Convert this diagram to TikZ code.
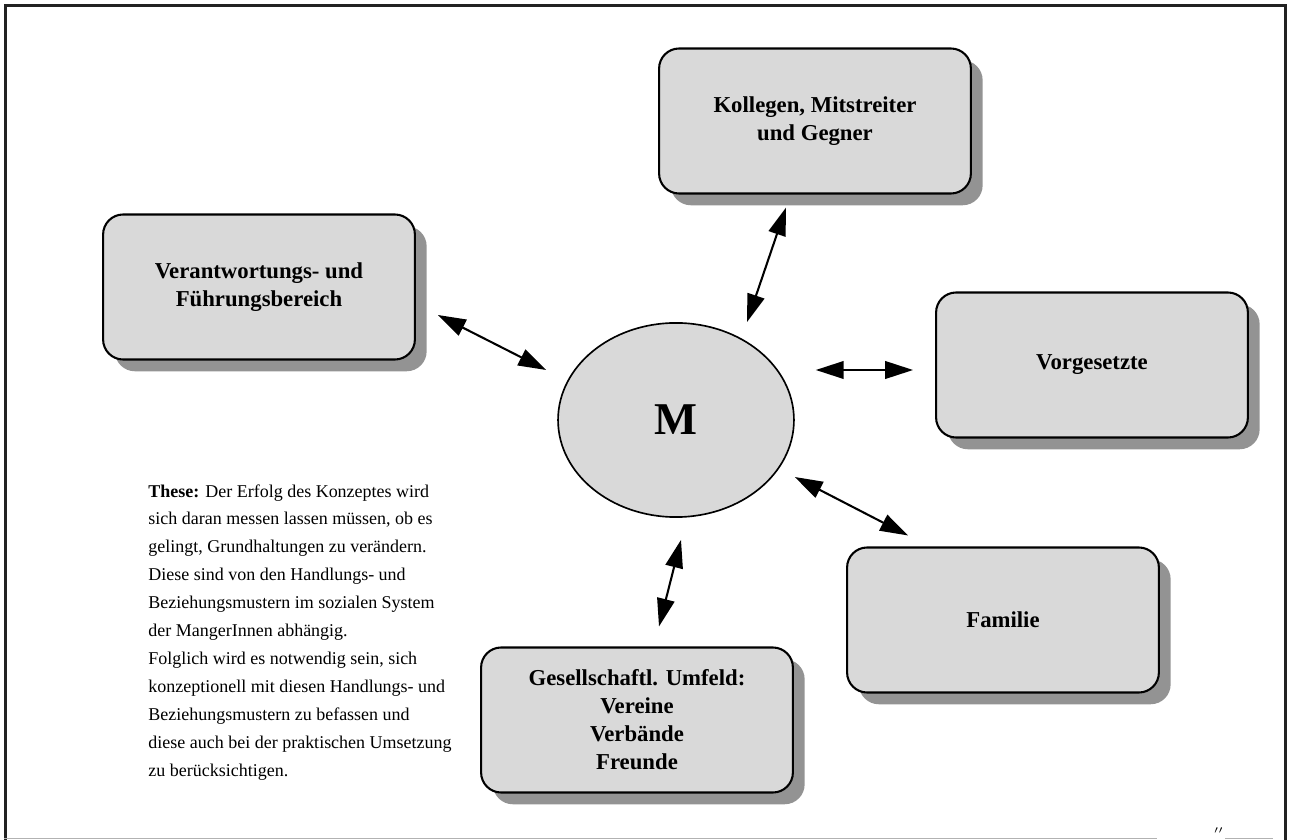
\documentclass[tikz,border=0pt]{standalone}
\usepackage{fontspec}
\setmainfont{Liberation Serif}
\usetikzlibrary{shapes.geometric,shadows,arrows.meta,calc}
\definecolor{boxgray}{HTML}{D9D9D9}
\definecolor{shadowgray}{HTML}{939393}
\definecolor{framegray}{HTML}{222222}

\tikzset{
  feld/.style={draw, line width=1pt, fill=boxgray, rounded corners=0.34cm,
    minimum width=5.3cm, minimum height=2.465cm, align=center,
    font=\fontsize{11}{13.5}\selectfont\bfseries,
    drop shadow={shadow xshift=0.2cm, shadow yshift=-0.2cm, fill=shadowgray, opacity=1}},
  pfeil/.style={line width=1pt, {Triangle[length=13.5pt,width=8.5pt]}-{Triangle[length=13.5pt,width=8.5pt]}}
}

\begin{document}
\begin{tikzpicture}[x=0.017cm, y=-0.017cm]
        \useasboundingbox (0,0) rectangle (1289,840);
        \draw[framegray, line width=1.5pt] (5.5,840) -- (5.5,5.5) -- (1285.5,5.5) -- (1285.5,840);
        \draw[gray!60, line width=0.6pt] (4,838.5) -- (1157,838.5);
        \draw[gray!60, line width=0.6pt] (1225,838.5) -- (1273,838.5);
        \node[font=\tiny, inner sep=0](bruch) at (1219,833) {$''$};

        \node[feld](verant) at (259,287) {Verantwortungs- und\\Führungsbereich};
        \node[feld](koll) at (815,121) {Kollegen, Mitstreiter\\und Gegner};
        \node[feld](vorg) at (1092,365) {Vorgesetzte};
        \node[feld](fam) at (1003,620) {Familie};
        \node[feld](ges) at (637,720) {Gesellschaftl. Umfeld:\\Vereine\\Verbände\\Freunde};
        \node[ellipse, draw, line width=0.8pt, fill=boxgray, minimum width=4.01cm, minimum height=3.3cm,
          font=\fontsize{22}{26}\selectfont\bfseries](m) at (676,420) {M};

        \node[anchor=north west, align=left, inner sep=0, font=\fontsize{8.7}{13.5}\selectfont](these) at (148,484)
          {\textbf{These:} Der Erfolg des Konzeptes wird\\
           sich daran messen lassen müssen, ob es\\
           gelingt, Grundhaltungen zu verändern.\\
           Diese sind von den Handlungs- und\\
           Beziehungsmustern im sozialen System\\
           der MangerInnen abhängig.\\
           Folglich wird es notwendig sein, sich\\
           konzeptionell mit diesen Handlungs- und\\
           Beziehungsmustern zu befassen und\\
           diese auch bei der praktischen Umsetzung\\
           zu berücksichtigen.};

        \draw[pfeil] ($(verant.east)+(22,28)$) -- ($(m.west)+(-11,-50)$);
        \draw[pfeil] ($(koll.south)+(-29,13)$) -- ($(m.north)+(71,0)$);
        \draw[pfeil] ($(m.east)+(21,-50)$) -- ($(vorg.west)+(-22,5)$);
        \draw[pfeil] ($(m.east)+(0,57)$) -- ($(fam.north)+(-95,-11)$);
        \draw[pfeil] ($(ges.north)+(22,-20)$) -- ($(m.south)+(5,22)$);
\end{tikzpicture}
\end{document}
